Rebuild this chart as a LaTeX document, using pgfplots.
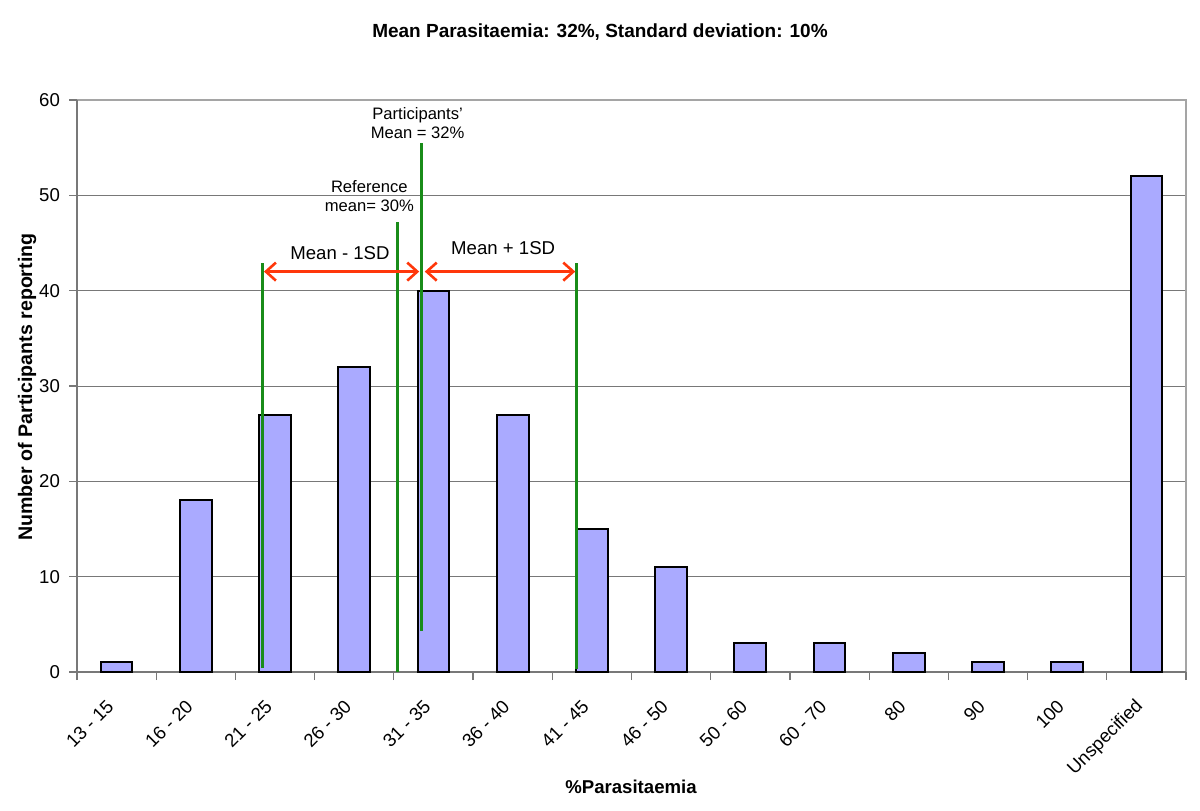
\documentclass[border=0pt]{standalone}
\usepackage{fontspec}
\setmainfont{Liberation Sans}
\usepackage{pgfplots}
\pgfplotsset{compat=1.18}
\usetikzlibrary{arrows.meta}
\definecolor{barfill}{RGB}{170,170,255}
\definecolor{mygreen}{RGB}{25,140,25}
\definecolor{myred}{RGB}{255,55,10}
\definecolor{axgray}{RGB}{120,120,120}
\definecolor{bordergray}{RGB}{165,165,165}

\begin{document}
\begin{tikzpicture}[x=1pt,y=1pt]
\path[use as bounding box] (-38.5,-69) rectangle (561.5,336);
\begin{axis}[
  at={(0,0)}, anchor=south west,
  scale only axis, width=554.5pt, height=286pt,
  xmin=-0.5, xmax=13.5, ymin=0, ymax=60,
  ytick={0,10,...,60},
  xtick={0,...,13},
  xticklabels={13 - 15, 16 - 20, 21 - 25, 26 - 30, 31 - 35, 36 - 40, 41 - 45, 46 - 50, 50 - 60, 60 - 70, 80, 90, 100, Unspecified},
  minor xtick={-0.5,0.5,...,13.5},
  xtick pos=bottom, ytick pos=left,
  major x tick style={draw=none},
  minor x tick style={axgray, line width=0.6pt},
  major y tick style={axgray, line width=0.6pt},
  tick align=outside,
  major tick length=4pt, minor tick length=4pt,
  axis line style={draw=none},
  ymajorgrids, grid style={axgray, line width=0.5pt},
  /pgf/number format/assume math mode=true,
  tick label style={font=\fontsize{9.3}{10}\selectfont},
  yticklabel style={xshift=-1pt},
  xticklabel style={rotate=45, anchor=east, xshift=-7pt, yshift=-6pt},
  clip=false,
]
% plot area border
\draw[bordergray, line width=0.8pt] (rel axis cs:0,1) -- (rel axis cs:1,1) -- (rel axis cs:1,0);
\draw[axgray, line width=0.8pt] (rel axis cs:0,1) -- (rel axis cs:0,0) -- (rel axis cs:1,0);

\addplot[ybar, bar width=0.4, fill=barfill, draw=black, line width=1pt] coordinates {
(0,1) (1,18) (2,27) (3,32) (4,40) (5,27) (6,15) (7,11) (8,3) (9,3) (10,2) (11,1) (12,1) (13,52)
};

% green lines
\addplot[mygreen, line width=1.5pt, no marks] coordinates {(1.84,0.4) (1.84,42.9)};
\addplot[mygreen, line width=1.5pt, no marks] coordinates {(3.55,0) (3.55,47.25)};
\addplot[mygreen, line width=1.5pt, no marks] coordinates {(3.85,4.3) (3.85,55.5)};
\addplot[mygreen, line width=1.5pt, no marks] coordinates {(5.81,0.35) (5.81,42.9)};

% red arrows
\addplot[myred, line width=1.3pt, no marks, {Straight Barb[length=5pt,width=9pt]}-{Straight Barb[length=5pt,width=9pt]}] coordinates {(1.86,42.0) (3.82,42.0)};
\addplot[myred, line width=1.3pt, no marks, {Straight Barb[length=5pt,width=9pt]}-{Straight Barb[length=5pt,width=9pt]}] coordinates {(3.89,42.0) (5.79,42.0)};

% annotations
\node[font=\fontsize{9.3}{10}\selectfont] at (axis cs:2.82,43.9) {Mean - 1SD};
\node[font=\fontsize{9.3}{10}\selectfont] at (axis cs:4.88,44.5) {Mean + 1SD};
\node[font=\fontsize{8.3}{9.6}\selectfont, align=center] at (axis cs:3.19,49.9) {Reference\\mean= 30\%};
\node[font=\fontsize{8.3}{9.6}\selectfont, align=center] at (axis cs:3.8,57.6) {Participants'\\Mean = 32\%};
\end{axis}
\node[font=\bfseries\fontsize{9.5}{11}\selectfont] at (261.5,320) {Mean Parasitaemia: 32\%, Standard deviation: 10\%};
\node[font=\bfseries\fontsize{9.3}{11}\selectfont] at (277,-57.5) {\%Parasitaemia};
\node[font=\bfseries\fontsize{9.8}{11}\selectfont, rotate=90] at (-25,142.5) {Number of Participants reporting};
\end{tikzpicture}
\end{document}
